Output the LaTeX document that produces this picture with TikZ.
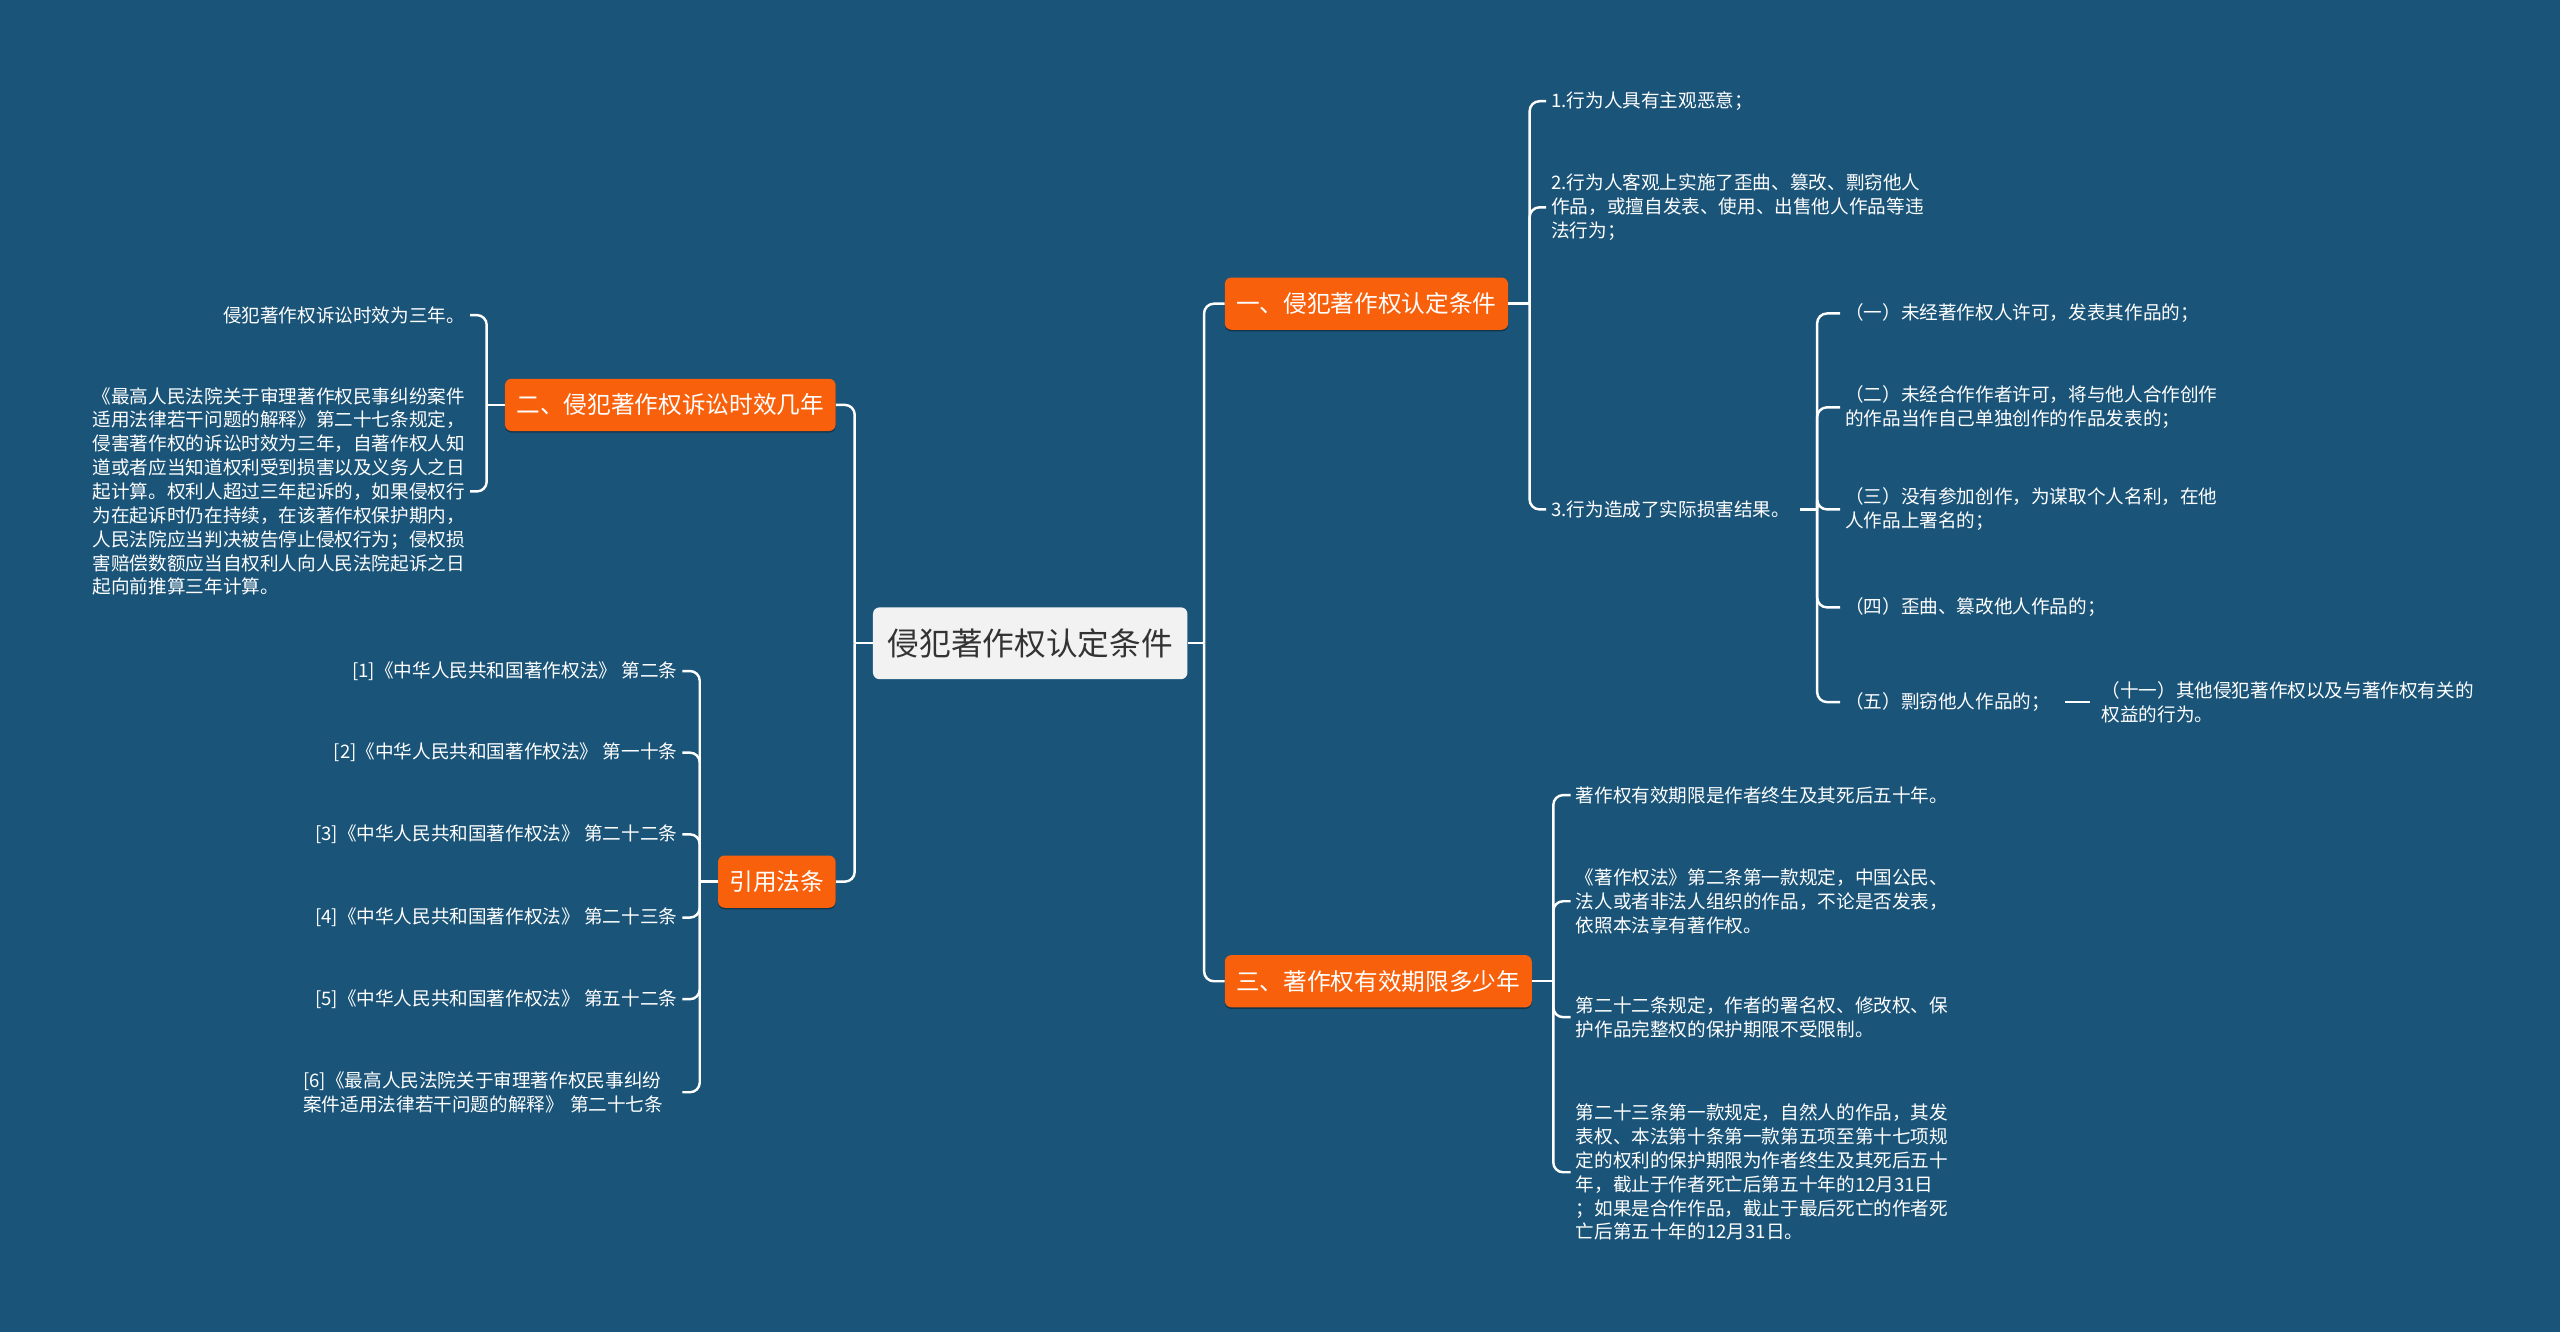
\documentclass[tikz,border=0pt]{standalone}
\usepackage{fontspec}
\setmainfont{Noto Sans CJK SC}
\usetikzlibrary{calc,shadows}
\definecolor{bgblue}{HTML}{1A5479}
\definecolor{topicorange}{HTML}{F9600B}
\definecolor{rootgrey}{HTML}{F2F2F2}
\definecolor{roottext}{HTML}{333333}

\begin{document}
\begin{tikzpicture}[
  x=1pt, y=-1pt,
  root/.style={fill=rootgrey, rounded corners=4pt, text=roottext, font=\fontsize{19.4}{22}\selectfont, minimum height=44pt, inner xsep=9pt},
  topic/.style={fill=topicorange, rounded corners=4pt, text=white, font=\fontsize{14.5}{17}\selectfont, minimum height=32pt, inner xsep=7pt,
    drop shadow={shadow xshift=0pt, shadow yshift=-1pt, opacity=0.35, fill=black}},
  leaf/.style={text=white, font=\fontsize{11.4}{14.6}\selectfont, align=left, inner sep=3pt},
  link/.style={draw=white, line width=1.5pt, rounded corners=6pt}
]
\fill[bgblue] (0,0) rectangle (1568,816);
\useasboundingbox (0,0) rectangle (1568,816);

% centre and main topics
\node[root] (main) at (631,394) {侵犯著作权认定条件};
\node[topic, anchor=west] (cond) at (750,186) {一、侵犯著作权认定条件};
\node[topic, anchor=west] (term) at (750,601) {三、著作权有效期限多少年};
\node[topic, anchor=east] (limit) at (512,248) {二、侵犯著作权诉讼时效几年};
\node[topic, anchor=east] (cite) at (512,540) {引用法条};

\coordinate (mainR) at ($(main.east)+(10,0)$);
\coordinate (mainL) at ($(main.west)+(-11,0)$);
\draw[link] (main.east) -- (mainR);
\draw[link] (main.west) -- (mainL);
\foreach \t in {cond,term} {\draw[link] (mainR) |- (\t.west);}
\foreach \t in {limit,cite} {\draw[link] (mainL) |- (\t.east);}

% 一
\node[leaf, anchor=west] (c1) at (947,62) {1.行为人具有主观恶意；};
\node[leaf, anchor=west] (c2) at (947,127) {2.行为人客观上实施了歪曲、篡改、剽窃他人\\作品，或擅自发表、使用、出售他人作品等违\\法行为；};
\node[leaf, anchor=west] (harm) at (947,312) {3.行为造成了实际损害结果。};
\coordinate (condR) at ($(cond.east)+(13,0)$);
\draw[link] (cond.east) -- (condR);
\foreach \t in {c1,c2,harm} {\draw[link] (condR) |- (\t.west);}

\node[leaf, anchor=west] (a1) at (1127,192) {（一）未经著作权人许可，发表其作品的；};
\node[leaf, anchor=west] (a2) at (1127,249.5) {（二）未经合作作者许可，将与他人合作创作\\的作品当作自己单独创作的作品发表的；};
\node[leaf, anchor=west] (a3) at (1127,312) {（三）没有参加创作，为谋取个人名利，在他\\人作品上署名的；};
\node[leaf, anchor=west] (a4) at (1127,372) {（四）歪曲、篡改他人作品的；};
\node[leaf, anchor=west] (a5) at (1127,430) {（五）剽窃他人作品的；};
\node[leaf, anchor=west] (a11) at (1284,430) {（十一）其他侵犯著作权以及与著作权有关的\\权益的行为。};
\coordinate (harmR) at (1113,312);
\draw[link] ([xshift=3pt]harm.east) -- (harmR);
\foreach \t in {a1,a2,a3,a4,a5} {\draw[link] (harmR) |- (\t.west);}
\draw[link] ([xshift=6pt]a5.east) -- ([xshift=-4pt]a11.west);

% 三
\node[leaf, anchor=west] (t1) at (962,487) {著作权有效期限是作者终生及其死后五十年。};
\node[leaf, anchor=west] (t2) at (962,552) {《著作权法》第二条第一款规定，中国公民、\\法人或者非法人组织的作品，不论是否发表，\\依照本法享有著作权。};
\node[leaf, anchor=west] (t3) at (962,623) {第二十二条规定，作者的署名权、修改权、保\\护作品完整权的保护期限不受限制。};
\node[leaf, anchor=west] (t4) at (962,718) {第二十三条第一款规定，自然人的作品，其发\\表权、本法第十条第一款第五项至第十七项规\\定的权利的保护期限为作者终生及其死后五十\\年，截止于作者死亡后第五十年的12月31日\\；如果是合作作品，截止于最后死亡的作者死\\亡后第五十年的12月31日。};
\coordinate (termR) at ($(term.east)+(13,0)$);
\draw[link] (term.east) -- (termR);
\foreach \t in {t1,t2,t3,t4} {\draw[link] (termR) |- (\t.west);}

% 二
\node[leaf, anchor=east] (s1) at (288,193) {侵犯著作权诉讼时效为三年。};
\node[leaf, anchor=east] (s2) at (288,301) {《最高人民法院关于审理著作权民事纠纷案件\\适用法律若干问题的解释》第二十七条规定，\\侵害著作权的诉讼时效为三年，自著作权人知\\道或者应当知道权利受到损害以及义务人之日\\起计算。权利人超过三年起诉的，如果侵权行\\为在起诉时仍在持续，在该著作权保护期内，\\人民法院应当判决被告停止侵权行为；侵权损\\害赔偿数额应当自权利人向人民法院起诉之日\\起向前推算三年计算。};
\coordinate (limitL) at ($(limit.west)+(-11,0)$);
\draw[link] (limit.west) -- (limitL);
\foreach \t in {s1,s2} {\draw[link] (limitL) |- (\t.east);}

% 引用法条
\node[leaf, anchor=east] (r1) at (418,411) {[1]《中华人民共和国著作权法》 第二条};
\node[leaf, anchor=east] (r2) at (418,461) {[2]《中华人民共和国著作权法》 第一十条};
\node[leaf, anchor=east] (r3) at (418,511) {[3]《中华人民共和国著作权法》 第二十二条};
\node[leaf, anchor=east] (r4) at (418,562) {[4]《中华人民共和国著作权法》 第二十三条};
\node[leaf, anchor=east] (r5) at (418,612) {[5]《中华人民共和国著作权法》 第五十二条};
\node[leaf, anchor=east, text width=229pt] (r6) at (418,669) {[6]《最高人民法院关于审理著作权民事纠纷\\案件适用法律若干问题的解释》 第二十七条};
\coordinate (citeL) at ($(cite.west)+(-11,0)$);
\draw[link] (cite.west) -- (citeL);
\foreach \t in {r1,r2,r3,r4,r5,r6} {\draw[link] (citeL) |- (\t.east);}
\end{tikzpicture}
\end{document}
